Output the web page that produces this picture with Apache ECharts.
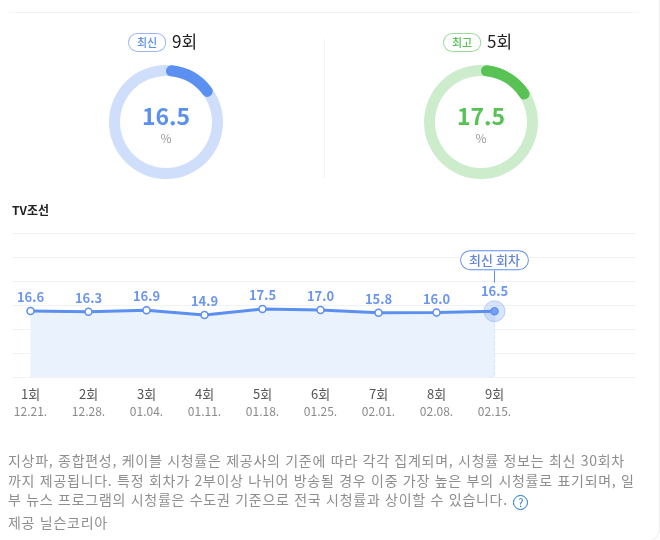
<!DOCTYPE html>
<html lang="ko">
  <head>
    <meta charset="UTF-8" />
    <title>TV조선 시청률</title>
    <style>
      html,
      body {
        margin: 0;
        padding: 0;
        width: 660px;
        height: 540px;
        overflow: hidden;
        background: #fff;
        font-family: "Noto Sans CJK KR", "Noto Sans", sans-serif;
      }
      #main {
        position: absolute;
        left: 0;
        top: 0;
        width: 660px;
        height: 540px;
      }
      .note {
        position: absolute;
        left: 8px;
        top: 451px;
        width: 640px;
        font-size: 14px;
        letter-spacing: 0.72px;
        line-height: 19.5px;
        color: #8e8e8e;
        white-space: nowrap;
      }
      .source {
        position: absolute;
        left: 8px;
        top: 513px;
        font-size: 14px;
        letter-spacing: 0.72px;
        line-height: 19px;
        color: #8e8e8e;
      }
      .help {
        display: inline-block;
        box-sizing: border-box;
        width: 15px;
        height: 15px;
        margin-left: 1px;
        border: 1.5px solid #1a73c8;
        border-radius: 50%;
        color: #1a73c8;
        font-size: 11px;
        letter-spacing: 0;
        line-height: 12px;
        text-align: center;
        vertical-align: -2px;
      }
    </style>
    <script src="https://cdn.jsdelivr.net/npm/echarts@6/dist/echarts.min.js"></script>
  </head>

  <body>
    <div id="main"></div>
    <div class="note" id="note"></div>
    <div class="source" id="source"></div>

    <script>
      const episodes = ["1회", "2회", "3회", "4회", "5회", "6회", "7회", "8회", "9회"];
      const dates = ["12.21.", "12.28.", "01.04.", "01.11.", "01.18.", "01.25.", "02.01.", "02.08.", "02.15."];
      const ratings = [16.6, 16.3, 16.9, 14.9, 17.5, 17.0, 15.8, 16.0, 16.5];
      const latestEpisode = "9회";
      const latestRating = 16.5;
      const bestEpisode = "5회";
      const bestRating = 17.5;
      const noteLines = [
        "지상파, 종합편성, 케이블 시청률은 제공사의 기준에 따라 각각 집계되며, 시청률 정보는 최신 30회차",
        "까지 제공됩니다. 특정 회차가 2부이상 나뉘어 방송될 경우 이중 가장 높은 부의 시청률로 표기되며, 일",
        "부 뉴스 프로그램의 시청률은 수도권 기준으로 전국 시청률과 상이할 수 있습니다.",
      ];
      const sourceText = "제공 닐슨코리아";

      const FONT = '"Noto Sans CJK KR", "Noto Sans", sans-serif';
      const BLUE = "#5b8ff0";
      const BLUE_LIGHT = "#cfdefa";
      const GREEN = "#58c255";
      const GREEN_LIGHT = "#cdeccc";

      document.getElementById("note").innerHTML =
        noteLines.join("<br>") + ' <span class="help">?</span>';
      document.getElementById("source").innerText = sourceText;

      // track ring plus a rounded slice on top
      function ring(center, value, color, light) {
        const base = {
          type: "pie",
          center: center,
          radius: [46, 57],
          startAngle: 90,
          silent: true,
          label: { show: false },
          labelLine: { show: false },
          animation: false,
        };
        return [
          Object.assign({}, base, {
            z: 1,
            data: [{ value: 100, itemStyle: { color: light } }],
          }),
          Object.assign({}, base, {
            z: 2,
            data: [
              { value: value, itemStyle: { color: color, borderRadius: 5.5 } },
              { value: 100 - value, itemStyle: { color: "transparent" } },
            ],
          }),
        ];
      }

      function ringText(x, badge, badgeColor, episode, value, color) {
        return [
          {
            type: "text",
            left: x - 38,
            top: 33,
            style: {
              text: badge,
              font: "500 11px " + FONT,
              fill: color,
              backgroundColor: "#fff",
              borderColor: badgeColor,
              borderWidth: 1,
              borderRadius: 9.5,
              padding: [3, 8, 3, 8],
            },
          },
          {
            type: "text",
            left: x + 6,
            top: 33,
            style: { text: episode, font: "17px " + FONT, fill: "#222" },
          },
          {
            type: "text",
            x: x,
            y: 116,
            style: {
              text: value.toFixed(1),
              font: "bold 23px " + FONT,
              fill: color,
              align: "center",
              verticalAlign: "middle",
            },
          },
          {
            type: "text",
            x: x,
            y: 138,
            style: {
              text: "%",
              font: "12px " + FONT,
              fill: "#999",
              align: "center",
              verticalAlign: "middle",
            },
          },
        ];
      }

      const myChart = echarts.init(document.getElementById("main"));

      const option = {
        animation: false,
        textStyle: { fontFamily: FONT },
        grid: [
          // wide grid only carries the horizontal rules
          { left: 12, right: 24, top: 233, height: 144.5 },
          { left: 30.5, width: 464, top: 233, height: 144.5 },
        ],
        xAxis: [
          { type: "value", gridIndex: 0, show: false, min: 0, max: 1 },
          {
            type: "category",
            gridIndex: 1,
            data: episodes,
            boundaryGap: false,
            axisLine: { show: false },
            axisTick: { show: false },
            splitLine: { show: false },
            axisLabel: {
              interval: 0,
              margin: 8,
              hideOverlap: false,
              formatter: function (value, index) {
                return "{ep|" + value + "}\n{date|" + dates[index] + "}";
              },
              rich: {
                ep: { fontSize: 13, color: "#555", lineHeight: 17, fontFamily: FONT },
                date: { fontSize: 12, color: "#8a8a8a", lineHeight: 17, fontFamily: FONT },
              },
            },
          },
        ],
        yAxis: [
          {
            type: "value",
            gridIndex: 0,
            min: 0,
            max: 6,
            interval: 1,
            axisLine: { show: false },
            axisTick: { show: false },
            axisLabel: { show: false },
            splitLine: { lineStyle: { color: "#f1f2f4", width: 1 } },
          },
          {
            type: "value",
            gridIndex: 1,
            show: false,
            min: -12.3,
            max: 50.5,
            splitLine: { show: false },
          },
        ],
        series: [
          ...ring(["166", "122"], latestRating, BLUE, BLUE_LIGHT),
          ...ring(["481", "122"], bestRating, GREEN, GREEN_LIGHT),
          {
            type: "line",
            xAxisIndex: 1,
            yAxisIndex: 1,
            data: ratings.map(function (v, i) {
              if (i !== ratings.length - 1) return v;
              return { value: v, label: { distance: 9 } };
            }),
            z: 5,
            symbol: "circle",
            symbolSize: 7,
            showSymbol: true,
            showAllSymbol: true,
            lineStyle: { color: BLUE, width: 3 },
            itemStyle: { color: "#fff", borderColor: BLUE, borderWidth: 1.5 },
            areaStyle: { color: "#eaf2fe", opacity: 1, origin: "start" },
            label: {
              show: true,
              position: "top",
              distance: 3,
              color: "#6b95ee",
              fontSize: 13,
              fontWeight: 600,
              fontFamily: FONT,
              formatter: function (p) {
                return ratings[p.dataIndex].toFixed(1);
              },
            },
            markLine: {
              silent: true,
              symbol: "none",
              label: { show: false },
              data: [
                [
                  { xAxis: latestEpisode, yAxis: latestRating, lineStyle: { color: "#c3d6f8", type: "dashed", width: 1 } },
                  { xAxis: latestEpisode, yAxis: -12.3 },
                ],
                [
                  { xAxis: latestEpisode, yAxis: 28.9, lineStyle: { color: BLUE, type: "solid", width: 1 } },
                  { xAxis: latestEpisode, yAxis: 34.2 },
                ],
              ],
            },
            markPoint: {
              silent: true,
              symbol: "circle",
              symbolSize: 1,
              itemStyle: { color: "transparent" },
              data: [
                {
                  coord: [latestEpisode, 38.7],
                  label: {
                    show: true,
                    position: "inside",
                    formatter: "최신 회차",
                    color: "#6285d6",
                    fontSize: 13,
                    fontWeight: 500,
                    fontFamily: FONT,
                    backgroundColor: "#fff",
                    borderColor: BLUE,
                    borderWidth: 1,
                    borderRadius: 10,
                    padding: [2.5, 8, 2.5, 8],
                  },
                },
              ],
            },
          },
          {
            // halo around the latest episode
            type: "scatter",
            xAxisIndex: 1,
            yAxisIndex: 1,
            data: [[latestEpisode, latestRating]],
            symbolSize: 21,
            z: 6,
            silent: true,
            itemStyle: { color: "rgba(91,143,240,0.3)", borderColor: "rgba(91,143,240,0.45)", borderWidth: 1 },
          },
          {
            type: "scatter",
            xAxisIndex: 1,
            yAxisIndex: 1,
            data: [[latestEpisode, latestRating]],
            symbolSize: 6,
            z: 7,
            silent: true,
            itemStyle: { color: BLUE },
          },
        ],
        graphic: [
          {
            type: "line",
            shape: { x1: 9, y1: 12.5, x2: 639, y2: 12.5 },
            style: { stroke: "#f3f3f3", lineWidth: 1 },
          },
          {
            type: "line",
            shape: { x1: 324.5, y1: 39, x2: 324.5, y2: 178 },
            style: { stroke: "#f1f2f4", lineWidth: 1 },
          },
          {
            type: "rect",
            shape: { x: -20, y: -20, width: 679.5, height: 561, r: 12 },
            style: { fill: "none", stroke: "#ececec", lineWidth: 1 },
            silent: true,
          },
          {
            type: "text",
            left: 12,
            top: 204,
            style: { text: "TV조선", font: "bold 12px " + FONT, fill: "#222" },
          },
          ...ringText(166, "최신", "#9bb8f3", latestEpisode, latestRating, BLUE),
          ...ringText(481, "최고", "#9bdc99", bestEpisode, bestRating, GREEN),
        ],
      };

      myChart.setOption(option);
    </script>
  </body>
</html>
